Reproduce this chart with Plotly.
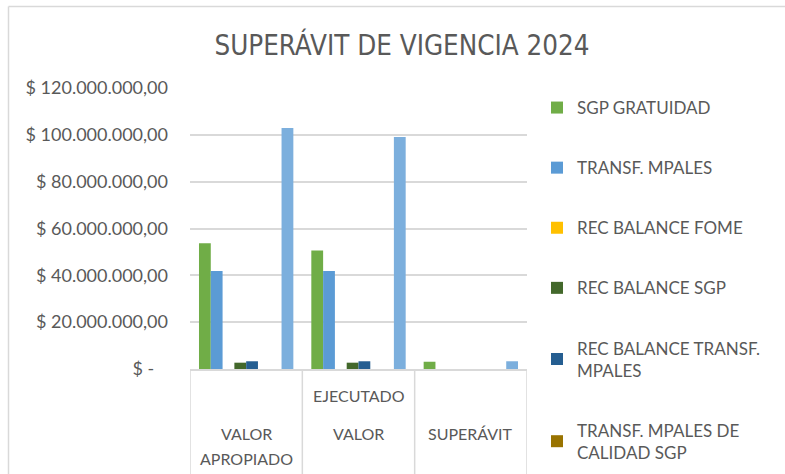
import plotly.graph_objects as go

# ---------------- data ----------------
categories = ["VALOR APROPIADO", "EJECUTADO VALOR", "SUPERÁVIT"]
category_label_lines = [["VALOR", "APROPIADO"], ["EJECUTADO", "VALOR"], ["SUPERÁVIT"]]

series_names = [
    "SGP GRATUIDAD",
    "TRANSF. MPALES",
    "REC BALANCE FOME",
    "REC BALANCE SGP",
    "REC BALANCE TRANSF.<br>MPALES",
    "TRANSF. MPALES DE<br>CALIDAD SGP",
    "OTROS",
    "TOTAL",
]
sgp_gratuidad = [53_700_000, 50_600_000, 3_100_000]
transf_mpales = [41_900_000, 41_900_000, 0]
rec_balance_fome = [0, 0, 0]
rec_balance_sgp = [2_700_000, 2_700_000, 0]
rec_balance_transf = [3_300_000, 3_300_000, 0]
transf_calidad_sgp = [0, 0, 0]
otros = [0, 0, 0]
total = [102_900_000, 99_100_000, 3_300_000]
series_values = [sgp_gratuidad, transf_mpales, rec_balance_fome, rec_balance_sgp,
                 rec_balance_transf, transf_calidad_sgp, otros, total]

y_tick_vals = [0, 20_000_000, 40_000_000, 60_000_000, 80_000_000, 100_000_000, 120_000_000]
y_tick_labels = ["$ -\u00a0\u00a0\u00a0", "$ 20.000.000,00", "$ 40.000.000,00", "$ 60.000.000,00",
                 "$ 80.000.000,00", "$ 100.000.000,00", "$ 120.000.000,00"]

title_text = "SUPERÁVIT DE VIGENCIA 2024"

# ---------------- style ----------------
colors = ["#70AD47", "#5B9BD5", "#FFC000", "#43682B", "#255E91", "#997300", "#264478", "#7CAFDD"]
show_in_legend = [True, True, True, True, True, True, False, False]
FONT = "Lato, 'Open Sans', sans-serif"
TXT = "#595959"
GRID = "#D9D9D9"

W, H = 785, 474
L, R, T, B = 190, 527, 88, 369  # plot area in pixels

def py(p):  # pixel y -> paper y
    return (B - p) / (B - T)

def px(p):  # pixel x -> paper x
    return (p - L) / (R - L)

fig = go.Figure()
x_idx = list(range(len(categories)))
for i, (name, vals) in enumerate(zip(series_names, series_values)):
    fig.add_trace(go.Bar(
        x=x_idx, y=vals, name=name,
        marker=dict(color=colors[i], line=dict(width=0)),
        showlegend=show_in_legend[i],
        legendgroup=f"g{i}",
    ))

fig.update_layout(
    width=W, height=H,
    margin=dict(l=L, r=W - R, t=T, b=H - B, pad=0, autoexpand=False),
    paper_bgcolor="white", plot_bgcolor="white",
    barmode="group", bargap=0.16, bargroupgap=0,
    font=dict(family=FONT, size=17, color=TXT),
    title=dict(
        text=title_text, x=402 / W, xanchor="center", xref="container",
        y=1 - 45 / H, yanchor="middle", yref="container",
        font=dict(family="'Liberation Sans Narrow', 'DejaVu Sans Condensed', sans-serif",
                  size=27.5, color=TXT),
    ),
    legend=dict(
        x=px(537), xanchor="left", y=py(90), yanchor="top",
        traceorder="grouped", tracegroupgap=35, maxheight=470,
        font=dict(family=FONT, size=17, color=TXT),
        itemclick=False, bgcolor="rgba(0,0,0,0)",
    ),
    xaxis=dict(
        range=[-0.5, 2.5], showticklabels=False, showgrid=False, zeroline=False,
        showline=True, linecolor=GRID, linewidth=1.5, fixedrange=True,
    ),
    yaxis=dict(
        range=[0, 120_000_000], tickvals=y_tick_vals, ticktext=y_tick_labels,
        showgrid=True, gridcolor=GRID, gridwidth=1.5, zeroline=False,
        showline=False, ticks="", ticklabelstandoff=21,
        tickfont=dict(family=FONT, size=18, color=TXT),
    ),
)

# chart-area border (top and left edges visible)
fig.add_shape(type="line", xref="paper", yref="paper",
              x0=px(8.5), x1=px(790), y0=py(6.5), y1=py(6.5),
              line=dict(color=GRID, width=1.5))
fig.add_shape(type="line", xref="paper", yref="paper",
              x0=px(8.5), x1=px(8.5), y0=py(6.5), y1=py(480),
              line=dict(color=GRID, width=1.5))

# category dividers below the axis
for k in range(len(categories) + 1):
    fig.add_shape(type="line", xref="x", yref="paper",
                  x0=k - 0.5, x1=k - 0.5, y0=0, y1=py(480),
                  line=dict(color=GRID, width=1.5))

# category labels
label_rows = [[433, 458], [395, 433], [433]]
for k, lines in enumerate(category_label_lines):
    for line_text, row in zip(lines, label_rows[k]):
        fig.add_annotation(x=k, y=py(row), xref="x", yref="paper",
                           text=line_text, showarrow=False,
                           xanchor="center", yanchor="middle",
                           font=dict(family=FONT, size=16, color=TXT))

fig.write_html(
    "out.html",
    config={"displayModeBar": False},
    post_script="document.body.style.margin='0';document.body.style.overflow='hidden';",
)
